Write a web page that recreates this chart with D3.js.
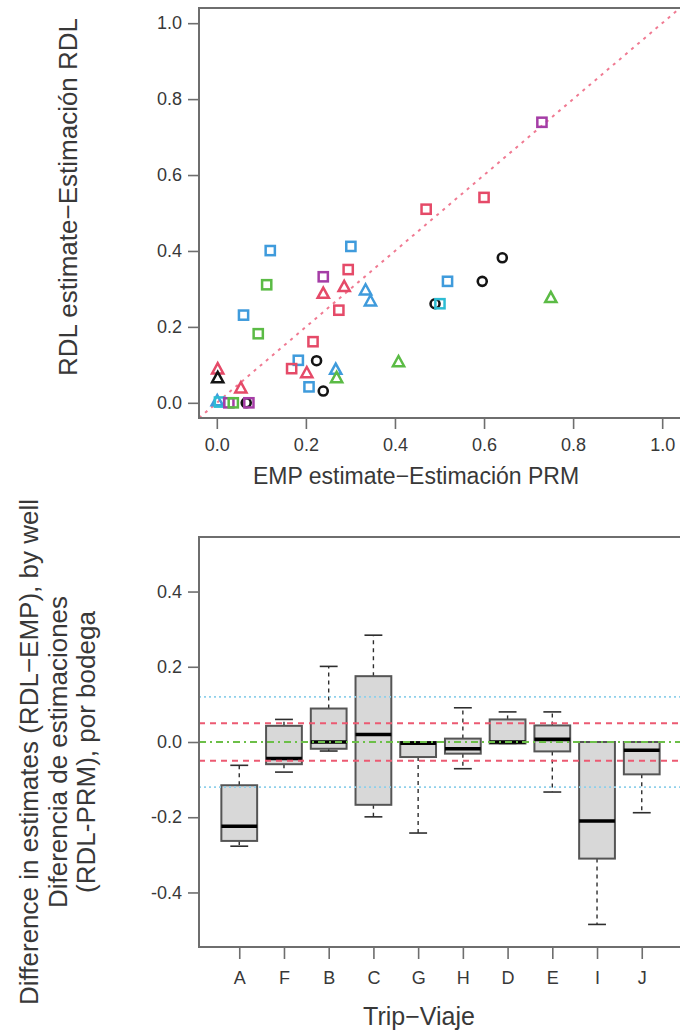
<!DOCTYPE html>
<html>
<head>
<meta charset="utf-8">
<script src="https://cdn.jsdelivr.net/npm/d3@7"></script>
<style>
  html, body { margin: 0; padding: 0; background: #fff; }
  svg { display: block; font-family: "Liberation Sans", Arial, Helvetica, sans-serif; }
</style>
</head>
<body>
<svg id="chart" width="680" height="1031"></svg>
<script>
// ---- Scatter: EMP vs RDL estimates, per well ----
const empEstimate = [0.730, 0.600, 0.470, 0.120, 0.301, 0.295, 0.239, 0.286, 0.239, 0.334,
                     0.345, 0.274, 0.112, 0.060, 0.093, 0.216, 0.183, 0.224, 0.168, 0.202,
                     0.267, 0.269, 0.207, 0.239, 0.002, 0.002, 0.054, 0.001, 0.006, 0.027,
                     0.037, 0.066, 0.072, 0.408, 0.641, 0.596, 0.518, 0.490, 0.501, 0.750];
const rdlEstimate = [0.739, 0.541, 0.510, 0.401, 0.412, 0.351, 0.332, 0.303, 0.285, 0.294,
                     0.265, 0.244, 0.311, 0.231, 0.182, 0.161, 0.112, 0.111, 0.090, 0.076,
                     0.085, 0.063, 0.042, 0.031, 0.086, 0.063, 0.036, 0.002, 0.002, 0.000,
                     0.000, 0.000, 0.000, 0.105, 0.382, 0.320, 0.320, 0.261, 0.261, 0.274];
const pointColour = ["purple", "red", "red", "blue", "blue", "red", "purple", "red", "red", "blue",
                     "blue", "red", "green", "blue", "green", "red", "blue", "black", "red", "red",
                     "blue", "green", "blue", "black", "red", "black", "red", "blue", "cyan", "purple",
                     "green", "black", "purple", "green", "black", "black", "blue", "black", "cyan", "green"];
const pointShape  = ["square", "square", "square", "square", "square", "square", "square", "triangle", "triangle", "triangle",
                     "triangle", "square", "square", "square", "square", "square", "square", "circle", "square", "triangle",
                     "triangle", "triangle", "square", "circle", "triangle", "triangle", "triangle", "triangle", "square", "square",
                     "square", "circle", "square", "triangle", "circle", "circle", "square", "circle", "square", "triangle"];
const scatterTicks = [0, 0.2, 0.4, 0.6, 0.8, 1.0];

// ---- Boxplot: RDL - EMP differences by trip ----
const trips       = ["A", "F", "B", "C", "G", "H", "D", "E", "I", "J"];
const whiskerLow  = [-0.277, -0.080, -0.024, -0.199, -0.242, -0.071, -0.004, -0.133, -0.485, -0.188];
const quartile1   = [-0.263, -0.059, -0.018, -0.167, -0.040, -0.031, -0.004, -0.025, -0.310, -0.086];
const medians     = [-0.224, -0.044,  0.000,  0.020, -0.003, -0.018,  0.000,  0.007, -0.210, -0.022];
const quartile3   = [-0.115,  0.043,  0.089,  0.175,  0.000,  0.009,  0.060,  0.044,  0.000,  0.000];
const whiskerHigh = [-0.062,  0.060,  0.201,  0.284,  0.000,  0.091,  0.080,  0.080,  0.000,  0.000];
const diffTicks   = [-0.4, -0.2, 0.0, 0.2, 0.4];
const refLines    = [
  { value:  0.12, kind: "tol12" }, { value: -0.12, kind: "tol12" },
  { value:  0.05, kind: "tol05" }, { value: -0.05, kind: "tol05" },
  { value:  0.00, kind: "zero" }
];

const colours = {
  red: "#e54a68", blue: "#3f9bdc", green: "#5bbb45",
  purple: "#a53da6", cyan: "#2dbcd3", black: "#141414"
};
const lineStyles = {
  tol12: { stroke: "#8fd0ea", dash: "2,3", width: 1.6 },
  tol05: { stroke: "#ec5a72", dash: "6,5", width: 2 },
  zero:  { stroke: "#6cbf48", dash: "7,4,2,4", width: 1.8 }
};

const svg = d3.select("#chart");
const frameColour = "#6e6e6e";
const textColour = "#383838";
const fmt = v => (v < 0 ? "-" : "") + Math.abs(v).toFixed(1);

// ================= Top panel =================
const topX = d3.scaleLinear().domain([-0.04, 1.04]).range([199, 680]);
const topY = d3.scaleLinear().domain([-0.04, 1.04]).range([418, 8]);

svg.append("clipPath").attr("id", "clipTop")
  .append("rect").attr("x", 199).attr("y", 8).attr("width", 481).attr("height", 410);

// y = x reference
svg.append("line")
  .attr("clip-path", "url(#clipTop)")
  .attr("x1", topX(-0.04)).attr("y1", topY(-0.04))
  .attr("x2", topX(1.04)).attr("y2", topY(1.04))
  .attr("stroke", "#f07a92").attr("stroke-width", 2)
  .attr("stroke-dasharray", "3,5");

const pts = svg.append("g").attr("clip-path", "url(#clipTop)");
empEstimate.forEach((ex, i) => {
  const cx = topX(ex), cy = topY(rdlEstimate[i]);
  const col = colours[pointColour[i]];
  const shape = pointShape[i];
  if (shape === "square") {
    pts.append("rect")
      .attr("x", cx - 4.6).attr("y", cy - 4.6)
      .attr("width", 9.2).attr("height", 9.2)
      .attr("fill", "none").attr("stroke", col).attr("stroke-width", 2.5);
  } else if (shape === "triangle") {
    const s = 11.2, h = s * Math.sqrt(3) / 2;
    pts.append("path")
      .attr("d", `M${cx},${cy - h * 2 / 3 - 0.5}L${cx + s / 2},${cy + h / 3}L${cx - s / 2},${cy + h / 3}Z`)
      .attr("fill", "none").attr("stroke", col).attr("stroke-width", 2.5)
      .attr("stroke-linejoin", "miter");
  } else {
    pts.append("circle")
      .attr("cx", cx).attr("cy", cy).attr("r", 4.5)
      .attr("fill", "none").attr("stroke", col).attr("stroke-width", 2.6);
  }
});

// frame
svg.append("rect")
  .attr("x", 199).attr("y", 8).attr("width", 483).attr("height", 410)
  .attr("fill", "none").attr("stroke", frameColour).attr("stroke-width", 2);

const topYAxis = svg.append("g").attr("transform", "translate(199,0)")
  .call(d3.axisLeft(topY).tickValues(scatterTicks).tickSize(11).tickPadding(6).tickFormat(fmt));
const topXAxis = svg.append("g").attr("transform", "translate(0,418)")
  .call(d3.axisBottom(topX).tickValues(scatterTicks).tickSize(11).tickPadding(9).tickFormat(fmt));

[topYAxis, topXAxis].forEach(ax => {
  ax.select(".domain").remove();
  ax.selectAll(".tick line").attr("stroke", frameColour).attr("stroke-width", 1.6);
  ax.selectAll(".tick text").attr("fill", textColour)
    .style("font-size", "18px").style("font-family", "'Liberation Sans', Arial, sans-serif");
});

svg.append("text")
  .attr("x", 416).attr("y", 484)
  .attr("text-anchor", "middle").attr("fill", textColour)
  .style("font-size", "23px")
  .text("EMP estimate\u2212Estimación PRM");

svg.append("text")
  .attr("transform", "translate(77,197) rotate(-90)")
  .attr("text-anchor", "middle").attr("fill", textColour)
  .style("font-size", "26px")
  .text("RDL estimate\u2212Estimación RDL");

// ================= Bottom panel =================
const botX = d3.scaleLinear().domain([0.1, 10.9]).range([199, 682]);
const botY = d3.scaleLinear().domain([-0.545, 0.545]).range([947, 537]);
const step = botX(2) - botX(1);
const boxW = step * 0.8;
const capW = boxW * 0.5;

svg.append("clipPath").attr("id", "clipBot")
  .append("rect").attr("x", 199).attr("y", 537).attr("width", 483).attr("height", 410);

const boxes = svg.append("g").attr("clip-path", "url(#clipBot)");
trips.forEach((t, i) => {
  const cx = botX(i + 1);
  const g = boxes.append("g");
  // whiskers
  [[quartile3[i], whiskerHigh[i]], [quartile1[i], whiskerLow[i]]].forEach(([a, b]) => {
    if (Math.abs(a - b) > 1e-9) {
      g.append("line")
        .attr("x1", cx).attr("x2", cx).attr("y1", botY(a)).attr("y2", botY(b))
        .attr("stroke", "#2e2e2e").attr("stroke-width", 1.4).attr("stroke-dasharray", "4,4");
    }
    g.append("line")
      .attr("x1", cx - capW / 2).attr("x2", cx + capW / 2)
      .attr("y1", botY(b)).attr("y2", botY(b))
      .attr("stroke", "#2e2e2e").attr("stroke-width", 1.6);
  });
  g.append("rect")
    .attr("x", cx - boxW / 2).attr("width", boxW)
    .attr("y", botY(quartile3[i])).attr("height", botY(quartile1[i]) - botY(quartile3[i]))
    .attr("fill", "#d8d8d8").attr("stroke", "#555").attr("stroke-width", 2);
  g.append("line")
    .attr("x1", cx - boxW / 2).attr("x2", cx + boxW / 2)
    .attr("y1", botY(medians[i])).attr("y2", botY(medians[i]))
    .attr("stroke", "#000").attr("stroke-width", 3.6);
});

// tolerance and zero lines
refLines.forEach(r => {
  const st = lineStyles[r.kind];
  boxes.append("line")
    .attr("x1", 199).attr("x2", 682)
    .attr("y1", botY(r.value)).attr("y2", botY(r.value))
    .attr("stroke", st.stroke).attr("stroke-width", st.width)
    .attr("stroke-dasharray", st.dash);
});

svg.append("rect")
  .attr("x", 199).attr("y", 537).attr("width", 483).attr("height", 410)
  .attr("fill", "none").attr("stroke", frameColour).attr("stroke-width", 2);

const botYAxis = svg.append("g").attr("transform", "translate(199,0)")
  .call(d3.axisLeft(botY).tickValues(diffTicks).tickSize(11).tickPadding(6).tickFormat(fmt));
const botXAxis = svg.append("g").attr("transform", "translate(0,947)")
  .call(d3.axisBottom(botX).tickValues(d3.range(1, trips.length + 1)).tickSize(12).tickPadding(12)
    .tickFormat(d => trips[d - 1]));

[botYAxis, botXAxis].forEach(ax => {
  ax.select(".domain").remove();
  ax.selectAll(".tick line").attr("stroke", frameColour).attr("stroke-width", 1.6);
  ax.selectAll(".tick text").attr("fill", textColour)
    .style("font-size", "18px").style("font-family", "'Liberation Sans', Arial, sans-serif");
});

svg.append("text")
  .attr("x", 419).attr("y", 1025)
  .attr("text-anchor", "middle").attr("fill", textColour)
  .style("font-size", "25px")
  .text("Trip\u2212Viaje");

const yTitleLines = [
  "Difference in estimates (RDL\u2212EMP), by well",
  "Diferencia de estimaciones",
  "(RDL-PRM), por bodega"
];
const yTitleBaselines = [38, 66.5, 94.5];
yTitleLines.forEach((line, i) => {
  svg.append("text")
    .attr("transform", `translate(${yTitleBaselines[i]},752) rotate(-90)`)
    .attr("text-anchor", "middle").attr("fill", textColour)
    .style("font-size", "26px")
    .text(line);
});
</script>
</body>
</html>
